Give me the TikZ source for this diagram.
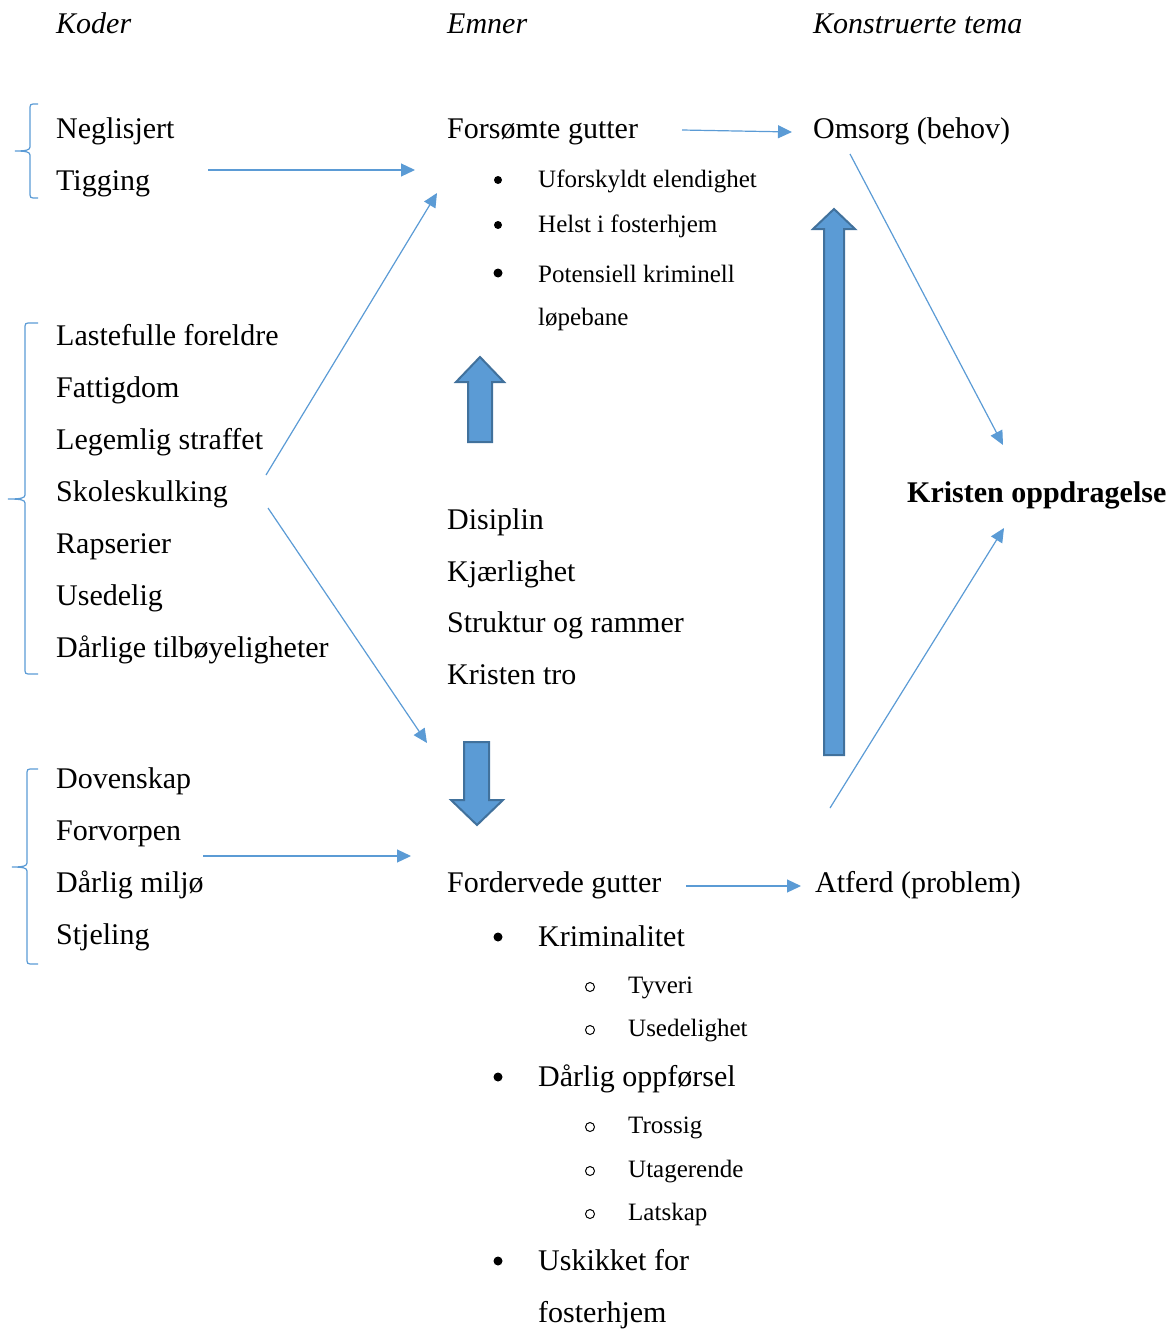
\documentclass[tikz,border=0pt]{standalone}
\usepackage{fontspec}
\setmainfont{Liberation Serif}
\usetikzlibrary{arrows.meta}
\definecolor{ablue}{HTML}{5B9BD5}
\definecolor{dblue}{HTML}{41719C}
\begin{document}
\begin{tikzpicture}[x=1pt,y=-1pt,
  big/.style={anchor=base west,inner sep=0pt,font=\fontsize{30}{36}\selectfont},
  small/.style={anchor=base west,inner sep=0pt,font=\fontsize{25}{30}\selectfont},
  hdr/.style={anchor=base west,inner sep=0pt,font=\fontsize{30}{36}\selectfont\itshape},
  conn/.style={draw=ablue,line width=1.2pt,-{Triangle[length=14pt,width=13pt]}},
  brace/.style={draw=ablue,line width=1.2pt},
  block/.style={fill=ablue,draw=dblue,line width=2pt,line join=miter},
  dot/.style={fill=black,draw=none},
  ring/.style={draw=black,line width=1pt}]
\useasboundingbox (0,0) rectangle (1168,1330);
% headers
\node[hdr] (hK) at (56,34) {Koder};
\node[hdr] (hE) at (447,34) {Emner};
\node[hdr] (hT) at (813,34) {Konstruerte tema};
% left column
\node[big] (neg) at (56,138) {Neglisjert};
\node[big] (tig) at (56,190) {Tigging};
\node[big] (las) at (56,345) {Lastefulle foreldre};
\node[big] (fat) at (56,397) {Fattigdom};
\node[big] (leg) at (56,449) {Legemlig straffet};
\node[big] (sko) at (56,501) {Skoleskulking};
\node[big] (rap) at (56,553) {Rapserier};
\node[big] (use) at (56,605) {Usedelig};
\node[big] (dtb) at (56,657) {Dårlige tilbøyeligheter};
\node[big] (dov) at (56,788) {Dovenskap};
\node[big] (for) at (56,840) {Forvorpen};
\node[big] (dmi) at (56,892) {Dårlig miljø};
\node[big] (stj) at (56,944) {Stjeling};
% middle column
\node[big] (fg) at (447,138) {Forsømte gutter};
\node[small] (uf) at (538,187) {Uforskyldt elendighet};
\node[small] (hf) at (538,232) {Helst i fosterhjem};
\node[small] (pk) at (538,282) {Potensiell kriminell};
\node[small] (lb) at (538,325) {løpebane};
\node[big] (dis) at (447,529) {Disiplin};
\node[big] (kja) at (447,581) {Kjærlighet};
\node[big] (str) at (447,632) {Struktur og rammer};
\node[big] (ktr) at (447,684) {Kristen tro};
\node[big] (fdg) at (447,892) {Fordervede gutter};
\node[big] (kri) at (538,946) {Kriminalitet};
\node[small] (tyv) at (628,993) {Tyveri};
\node[small] (usl) at (628,1036) {Usedelighet};
\node[big] (dop) at (538,1086) {Dårlig oppførsel};
\node[small] (tro) at (628,1133) {Trossig};
\node[small] (uta) at (628,1177) {Utagerende};
\node[small] (lat) at (628,1220) {Latskap};
\node[big] (usk) at (538,1270) {Uskikket for};
\node[big] (fos) at (538,1322) {fosterhjem};
% right column
\node[big] (oms) at (813,138) {Omsorg (behov)};
\node[big] (atf) at (815,892) {Atferd (problem)};
\node[big,font=\fontsize{30}{36}\selectfont\bfseries] (kop) at (907,502) {Kristen oppdragelse};
% bullets
\fill[dot] (498,180) circle (4);
\fill[dot] (498,225) circle (4);
\fill[dot] (498,273) circle (4.5);
\fill[dot] (498,937) circle (4.5);
\fill[dot] (498,1077) circle (4.5);
\fill[dot] (498,1261) circle (4.5);
\draw[ring] (590,987) circle (4.5);
\draw[ring] (590,1030) circle (4.5);
\draw[ring] (590,1127) circle (4.5);
\draw[ring] (590,1171) circle (4.5);
\draw[ring] (590,1214) circle (4.5);
% braces
\draw[brace] (38,104) -- (33,104) .. controls (31,104) and (30,105) .. (30,107) -- (30,147)
  .. controls (30,150) and (26,151) .. (15,151) .. controls (26,151) and (30,152) .. (30,155)
  -- (30,195) .. controls (30,197) and (31,198) .. (33,198) -- (38,198);
\draw[brace] (38,323) -- (28,323) .. controls (26,323) and (25,324) .. (25,326) -- (25,495)
  .. controls (25,498) and (21,499) .. (8,499) .. controls (21,499) and (25,500) .. (25,503)
  -- (25,671) .. controls (25,673) and (26,674) .. (28,674) -- (38,674);
\draw[brace] (38,769) -- (30,769) .. controls (28,769) and (27,770) .. (27,772) -- (27,863)
  .. controls (27,866) and (23,867) .. (12,867) .. controls (23,867) and (27,868) .. (27,871)
  -- (27,961) .. controls (27,963) and (28,964) .. (30,964) -- (38,964);
% connector endpoints
\coordinate (c1s) at (208,170); \coordinate (c1e) at (415,170);
\coordinate (c2s) at (266,475); \coordinate (c2e) at (437,193);
\coordinate (c3s) at (268,508); \coordinate (c3e) at (427,743);
\coordinate (c4s) at (203,856); \coordinate (c4e) at (411,856);
\coordinate (c5s) at (682,130); \coordinate (c5e) at (792,132);
\coordinate (c6s) at (850,154); \coordinate (c6e) at (1003,445);
\coordinate (c7s) at (830,808); \coordinate (c7e) at (1004,528);
\coordinate (c8s) at (686,886); \coordinate (c8e) at (801,886);
\draw[conn] (c1s) -- (c1e);
\draw[conn] (c2s) -- (c2e);
\draw[conn] (c3s) -- (c3e);
\draw[conn] (c4s) -- (c4e);
\draw[conn] (c5s) -- (c5e);
\draw[conn] (c6s) -- (c6e);
\draw[conn] (c7s) -- (c7e);
\draw[conn] (c8s) -- (c8e);
% block arrows
\draw[block] (468,442) -- (468,382) -- (456,382) -- (480,357) -- (504,382) -- (492,382) -- (492,442) -- cycle;
\draw[block] (464,742) -- (464,800) -- (451,800) -- (477,825) -- (503,800) -- (489,800) -- (489,742) -- cycle;
\draw[block] (824,755) -- (824,229) -- (813,229) -- (834,209) -- (855,229) -- (844,229) -- (844,755) -- cycle;
\end{tikzpicture}
\end{document}
